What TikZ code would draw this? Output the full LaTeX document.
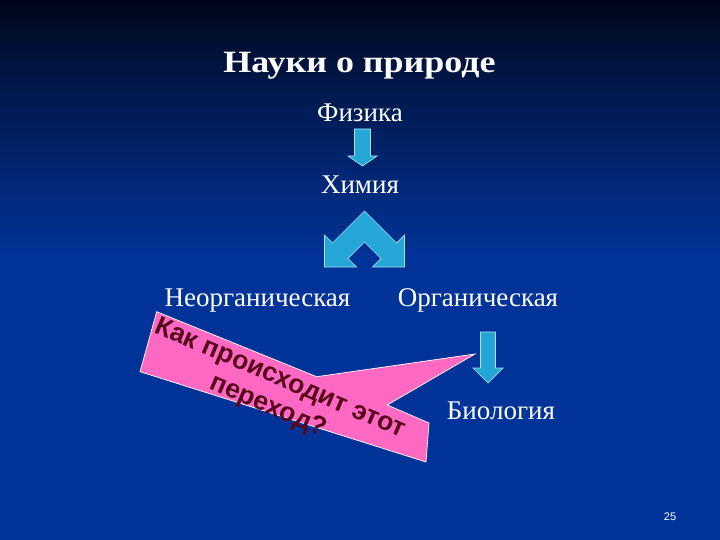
\documentclass[tikz,border=0pt]{standalone}
\usepackage{fontspec}
\setmainfont{Liberation Serif}
\newfontfamily\calloutfont{Liberation Sans}
\definecolor{bgtop}{RGB}{0,6,26}
\definecolor{bgmid}{RGB}{1,26,80}
\definecolor{bgbot}{RGB}{2,51,152}
\definecolor{arrowfill}{RGB}{36,166,214}
\definecolor{arrowline}{RGB}{170,225,245}
\definecolor{callpink}{RGB}{255,105,196}
\definecolor{calltext}{RGB}{88,6,28}
\pgfdeclareverticalshading{slidebg}{100bp}{color(0bp)=(bgbot); color(25bp)=(bgbot); color(51bp)=(bgbot); color(66bp)=(bgmid); color(75bp)=(bgtop); color(100bp)=(bgtop)}
\begin{document}
\begin{tikzpicture}[x=1pt,y=-1pt,
  lbl/.style={text=white,font=\fontsize{27}{31}\selectfont,anchor=base,inner sep=0pt},
  blockarrow/.style={fill=arrowfill,draw=arrowline,line width=0.7pt,line join=miter},
  callout/.style={fill=callpink,draw=white,line width=0.7pt}]
\useasboundingbox (0,0) rectangle (720,540);
% background
\shade[shading=slidebg] (0,0) rectangle (720,540);
% title
\node[text=white,anchor=base,inner sep=0pt,font=\bfseries\fontsize{31}{36}\selectfont,xscale=1.16] (title) at (359.5,73) {Науки о природе};
% labels
\node[lbl] (phys) at (360,122) {Физика};
\node[lbl] (chem) at (360,194) {Химия};
\node[lbl] (inorg) at (257.5,306) {Неорганическая};
\node[lbl] (org) at (478,306) {Органическая};
\node[lbl] (bio) at (501,419) {Биология};
% arrow Физика -> Химия
\coordinate (a1) at (362.5,129);
\draw[blockarrow] ([xshift=-8pt]a1) -- ([xshift=8pt]a1) -- ([xshift=8pt,yshift=-27pt]a1) -- ([xshift=14.5pt,yshift=-27pt]a1)
  -- ([yshift=-37pt]a1) -- ([xshift=-14.5pt,yshift=-27pt]a1) -- ([xshift=-8pt,yshift=-27pt]a1) -- cycle;
% split arrow under Химия
\coordinate (sp) at (364.5,0);
\draw[blockarrow] ([yshift=-211pt]sp) -- ([xshift=32pt,yshift=-243pt]sp) -- ([xshift=40pt,yshift=-235pt]sp)
  -- ([xshift=40pt,yshift=-267pt]sp) -- ([xshift=8pt,yshift=-267pt]sp) -- ([xshift=16.5pt,yshift=-258.5pt]sp)
  -- ([yshift=-242pt]sp) -- ([xshift=-16.5pt,yshift=-258.5pt]sp) -- ([xshift=-8pt,yshift=-267pt]sp)
  -- ([xshift=-40pt,yshift=-267pt]sp) -- ([xshift=-40pt,yshift=-235pt]sp) -- ([xshift=-32pt,yshift=-243pt]sp) -- cycle;
% arrow Органическая -> Биология
\coordinate (a2) at (488,332);
\draw[blockarrow] ([xshift=-7.5pt]a2) -- ([xshift=7.5pt]a2) -- ([xshift=7.5pt,yshift=-36pt]a2) -- ([xshift=15pt,yshift=-36pt]a2)
  -- ([yshift=-51pt]a2) -- ([xshift=-15pt,yshift=-36pt]a2) -- ([xshift=-7.5pt,yshift=-36pt]a2) -- cycle;
% callout
\coordinate (ctip) at (475,354);
\draw[callout] (156.7,311.7) -- (316.7,376.7) -- (ctip) -- (387.3,405) -- (429,423) -- (426,462) -- (140,371.7) -- cycle;
\node[text=calltext,font=\calloutfont\bfseries\fontsize{26.5}{30}\selectfont,align=center,rotate=-23,inner sep=0pt] (ctext) at (274,393)
  {Как происходит этот\\переход?};
% page number
\node[text=white,font=\calloutfont\fontsize{11}{13}\selectfont,inner sep=0pt] (pnum) at (670,517) {25};
\end{tikzpicture}
\end{document}
